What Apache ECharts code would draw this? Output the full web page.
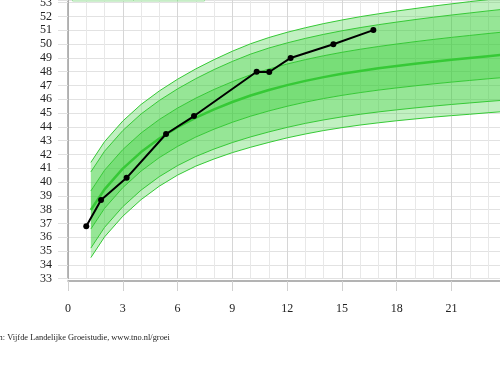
<!DOCTYPE html>
<html><head><meta charset="utf-8">
<script src="https://cdn.jsdelivr.net/npm/echarts@6/dist/echarts.min.js"></script>
<style>html,body{margin:0;padding:0;background:#fff;overflow:hidden}#c{width:500px;height:371px}</style>
</head><body><div id="c"></div>
<script>
// age in months for the reference curves
const months = [1.25, 2, 3, 4, 5, 6, 7, 8, 9, 10, 11, 12, 13, 14, 15, 16, 17, 18, 19, 20, 21, 22, 23, 24];
// reference lines (head circumference, cm)
const sdP25 = [41.42, 42.92, 44.42, 45.62, 46.60, 47.45, 48.20, 48.87, 49.48, 50.02, 50.47, 50.85, 51.18, 51.48, 51.74, 51.98, 52.19, 52.39, 52.57, 52.75, 52.91, 53.07, 53.22, 53.37];
const sdP2  = [40.73, 42.23, 43.73, 44.93, 45.91, 46.75, 47.49, 48.15, 48.74, 49.27, 49.71, 50.08, 50.41, 50.70, 50.96, 51.19, 51.40, 51.59, 51.77, 51.94, 52.10, 52.25, 52.40, 52.54];
const sdP1  = [39.35, 40.85, 42.35, 43.55, 44.53, 45.36, 46.08, 46.71, 47.27, 47.77, 48.19, 48.55, 48.87, 49.15, 49.40, 49.62, 49.82, 50.00, 50.17, 50.33, 50.48, 50.62, 50.76, 50.89];
const sd0   = [37.97, 39.47, 40.97, 42.17, 43.15, 43.97, 44.67, 45.27, 45.80, 46.27, 46.67, 47.02, 47.33, 47.60, 47.84, 48.05, 48.24, 48.41, 48.57, 48.72, 48.86, 48.99, 49.12, 49.24];
const sdM1  = [36.59, 38.09, 39.59, 40.79, 41.77, 42.58, 43.26, 43.83, 44.33, 44.77, 45.15, 45.49, 45.79, 46.05, 46.28, 46.48, 46.66, 46.82, 46.97, 47.11, 47.24, 47.36, 47.48, 47.59];
const sdM2  = [35.21, 36.71, 38.21, 39.41, 40.39, 41.19, 41.85, 42.39, 42.86, 43.27, 43.63, 43.96, 44.25, 44.50, 44.72, 44.91, 45.08, 45.23, 45.37, 45.50, 45.62, 45.73, 45.84, 45.94];
const sdM25 = [34.52, 36.02, 37.52, 38.72, 39.70, 40.50, 41.15, 41.67, 42.13, 42.52, 42.87, 43.20, 43.48, 43.73, 43.94, 44.13, 44.29, 44.44, 44.57, 44.70, 44.81, 44.91, 45.02, 45.12];
// child measurements
const childAge = [1.0, 1.81, 3.21, 5.37, 6.9, 10.33, 11.02, 12.19, 14.53, 16.72];
const childHC  = [36.8, 38.7, 40.3, 43.48, 44.78, 47.99, 47.97, 48.99, 49.98, 51.01];
const sourceText = 'Bron: Vijfde Landelijke Groeistudie, www.tno.nl/groei';

const lines = [sdP25, sdP2, sdP1, sd0, sdM1, sdM2, sdM25];
const bands = [
  {hi: sdP25, lo: sdP2, color: 'rgba(50,205,50,0.30)'},
  {hi: sdP2, lo: sdP1, color: 'rgba(50,205,50,0.51)'},
  {hi: sdP1, lo: sdM1, color: 'rgba(50,205,50,0.66)'},
  {hi: sdM1, lo: sdM2, color: 'rgba(50,205,50,0.51)'},
  {hi: sdM2, lo: sdM25, color: 'rgba(50,205,50,0.30)'}
];

const chart = echarts.init(document.getElementById('c'), null, {renderer: 'canvas'});
const font = 'Liberation Serif';

const series = [];
series.push({
  type: 'custom',
  z: 1,
  silent: true,
  data: bands.map((b, i) => [i]),
  encode: {x: -1, y: -1},
  renderItem: function (params, api) {
    const b = bands[params.dataIndex];
    const pts = [];
    for (let i = 0; i < months.length; i++) pts.push(api.coord([months[i], b.hi[i]]));
    for (let i = months.length - 1; i >= 0; i--) pts.push(api.coord([months[i], b.lo[i]]));
    return {type: 'polygon', shape: {points: pts}, style: {fill: b.color, stroke: null}};
  }
});
lines.forEach((arr, k) => {
  series.push({
    type: 'line', z: 2, silent: true, symbol: 'none',
    data: months.map((m, i) => [m, arr[i]]),
    lineStyle: {color: '#36c936', width: k === 3 ? 2.5 : 1}
  });
});
series.push({
  type: 'line', z: 5, silent: true,
  data: childAge.map((a, i) => [a, childHC[i]]),
  symbol: 'circle', symbolSize: 6,
  itemStyle: {color: '#000'},
  lineStyle: {color: '#000', width: 2}
});

chart.setOption({
  animation: false,
  backgroundColor: '#fff',
  grid: {left: 68, top: 0, width: 438.3, height: 278.6, containLabel: false, outerBoundsMode: 'none'},
  xAxis: {
    type: 'value', min: 0, max: 24, interval: 3, offset: 2.4,
    axisLine: {show: true, lineStyle: {color: '#9a9a9a', width: 1.5}},
    axisTick: {show: true, length: 10, lineStyle: {color: '#d0d0d0'}},
    axisLabel: {margin: 22, fontFamily: font, fontSize: 12, color: '#222'},
    splitLine: {show: true, lineStyle: {color: '#d6d6d6', width: 1}},
    minorTick: {show: false, splitNumber: 3},
    minorSplitLine: {show: true, lineStyle: {color: '#e8e8e8', width: 1}}
  },
  yAxis: {
    type: 'value', min: 33, max: 53.19, interval: 1,
    axisLine: {show: true, lineStyle: {color: '#a0a0a0', width: 1.5}},
    axisTick: {show: true, length: 10, lineStyle: {color: '#e0e0e0'}},
    axisLabel: {margin: 16, fontFamily: font, fontSize: 12, color: '#222',
      formatter: v => (Math.abs(v - Math.round(v)) < 1e-6 ? String(Math.round(v)) : '')},
    splitLine: {show: true, lineStyle: {color: '#e2e2e2', width: 1}}
  },
  graphic: [
    {type: 'rect', shape: {x: 72.5, y: -12, width: 61, height: 13}, style: {fill: '#eefaee', stroke: '#9fe09f', lineWidth: 1}, z: 10},
    {type: 'rect', shape: {x: 133.5, y: -12, width: 44, height: 13}, style: {fill: '#eefaee', stroke: '#9fe09f', lineWidth: 1}, z: 10},
    {type: 'rect', shape: {x: 177.5, y: -12, width: 27, height: 13}, style: {fill: '#eefaee', stroke: '#9fe09f', lineWidth: 1}, z: 10},
    {type: 'text', left: -14, top: 334, style: {text: sourceText, font: '8.4px "Liberation Serif"', fill: '#222'}, z: 10}
  ],
  series: series
});
</script></body></html>
